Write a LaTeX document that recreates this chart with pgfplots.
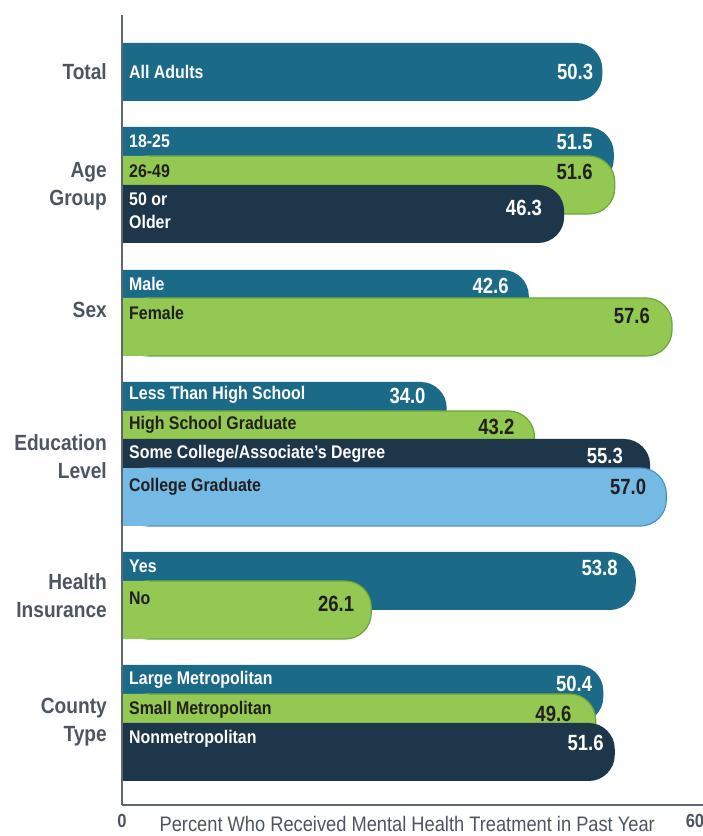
\documentclass[border=0pt]{standalone}
\usepackage{pgfplots}
\pgfplotsset{compat=1.18}
\usepackage{pgfplotstable}
\usepackage{fontspec}
\setmainfont{Liberation Sans}[FakeStretch=0.87]
\newfontfamily\valfont{Liberation Sans}[FakeStretch=0.84]
\definecolor{cTeal}{HTML}{1B6A88}
\definecolor{cGreen}{HTML}{93C852}
\definecolor{cGreenE}{HTML}{6EA43C}
\definecolor{cNavy}{HTML}{1E3649}
\definecolor{cLight}{HTML}{75B9E5}
\definecolor{cLightE}{HTML}{4A92CC}
\definecolor{cGrey}{HTML}{4D5560}
\definecolor{cAxis}{HTML}{5F6770}
\definecolor{cDark}{HTML}{231F20}

% bars: value, bar position (one table per colour, drawn in this order)
\pgfplotstableread{
v y
50.3 764
51.5 680
42.6 537
34.0 425
53.8 255
50.4 142
}\tealT
\pgfplotstableread{
v y
51.6 651
57.6 509
43.2 396
26.1 226
49.6 113
}\greenT
\pgfplotstableread{
v y
46.3 622
55.3 368
51.6 84
}\navyT
\pgfplotstableread{
v y
57.0 339
}\lightT

% value labels: value, label y, shift from bar end
\pgfplotstableread{
v y dx
50.3 764 9
51.5 694 21
46.3 628 22
42.6 550 20
34.0 440 21
55.3 380 27
53.8 268 18
50.4 152 11
51.6 93 11
}\valW
\pgfplotstableread{
v y dx
51.6 664 22
57.6 520 22
43.2 409 20
57.0 349 20
26.1 232 17
49.6 122 24
}\valD
\pgfplotstableread[col sep=comma]{
y,lab
764,All Adults
695,18-25
637,50 or
614,Older
552,Male
441,Less Than High School
382,Some College/Associate’s Degree
270,Yes
156,Large Metropolitan
97,Nonmetropolitan
}\labW
\pgfplotstableread[col sep=comma]{
y,lab
665,26-49
523,Female
411,High School Graduate
349,College Graduate
238,No
126,Small Metropolitan
}\labD

\pgfplotsset{
  bbase/.style={xbar, bar width=58pt, bar shift=0pt, forget plot},
  rbar/.style={bbase, rounded corners=26pt},
  % square-off the left end of each bar
  sq/.style={bbase, draw=none, fill=#1, x filter/.expression={min(x,2.8)}},
}

\begin{document}
\begin{tikzpicture}
\path[use as bounding box] (0,0) rectangle (703pt,836pt);
\begin{axis}[
  at={(122pt,31pt)}, anchor=south west,
  scale only axis, width=581pt, height=790pt,
  xmin=0, xmax=60.84, ymin=31, ymax=821,
  axis x line*=bottom, axis y line*=left,
  axis line style={draw=cAxis, line width=2pt, -},
  axis on top,
  major tick length=0pt,
  xtick={0,60}, xticklabels={0,60},
  xticklabel style={font=\fontsize{19}{19}\selectfont\bfseries, text=cGrey, yshift=-6pt},
  ytick={764,650,526,379,240,114},
  yticklabels={Total,{Age\\Group},Sex,{Education\\Level},{Health\\Insurance},{County\\Type}},
  yticklabel style={font=\fontsize{22}{28}\selectfont\bfseries, text=cGrey, align=right, inner sep=0pt, xshift=-15pt},
  xlabel={Percent Who Received Mental Health Treatment in Past Year},
  xlabel style={at={(axis description cs:0.491,0)}, anchor=center, yshift=-19pt,
    font=\fontsize{21}{21}\selectfont, text=cGrey},
]
\addplot[rbar, fill=cTeal, draw=none] table[x=v, y=y] {\tealT};
\addplot[sq=cTeal] table[x=v, y=y] {\tealT};
\addplot[rbar, fill=cGreen, draw=cGreenE, line width=1.2pt] table[x=v, y=y] {\greenT};
\addplot[sq=cGreen] table[x=v, y=y] {\greenT};
\addplot[rbar, fill=cNavy, draw=none] table[x=v, y=y] {\navyT};
\addplot[sq=cNavy] table[x=v, y=y] {\navyT};
\addplot[rbar, fill=cLight, draw=cLightE, line width=1.2pt] table[x=v, y=y] {\lightT};
\addplot[sq=cLight] table[x=v, y=y] {\lightT};

% category labels inside bars
\addplot[draw=none, mark=none, forget plot, point meta=explicit symbolic,
  nodes near coords,
  every node near coord/.append style={anchor=west, xshift=7pt, text=white, inner sep=0pt,
    font=\fontsize{18.3}{18.3}\selectfont\bfseries}]
  table[x expr=0, y=y, meta=lab] {\labW};
\addplot[draw=none, mark=none, forget plot, point meta=explicit symbolic,
  nodes near coords,
  every node near coord/.append style={anchor=west, xshift=7pt, text=cDark, inner sep=0pt,
    font=\fontsize{18.3}{18.3}\selectfont\bfseries}]
  table[x expr=0, y=y, meta=lab] {\labD};
% value labels
\addplot[draw=none, mark=none, forget plot, point meta=explicit symbolic,
  visualization depends on={\thisrow{dx}\as\dx},
  nodes near coords,
  every node near coord/.append style={anchor=east, xshift=-\dx pt, text=white, inner sep=0pt,
    font=\valfont\fontsize{22}{22}\selectfont\bfseries}]
  table[x=v, y=y, meta=v] {\valW};
\addplot[draw=none, mark=none, forget plot, point meta=explicit symbolic,
  visualization depends on={\thisrow{dx}\as\dx},
  nodes near coords,
  every node near coord/.append style={anchor=east, xshift=-\dx pt, text=cDark, inner sep=0pt,
    font=\valfont\fontsize{22}{22}\selectfont\bfseries}]
  table[x=v, y=y, meta=v] {\valD};
\end{axis}
\end{tikzpicture}
\end{document}
